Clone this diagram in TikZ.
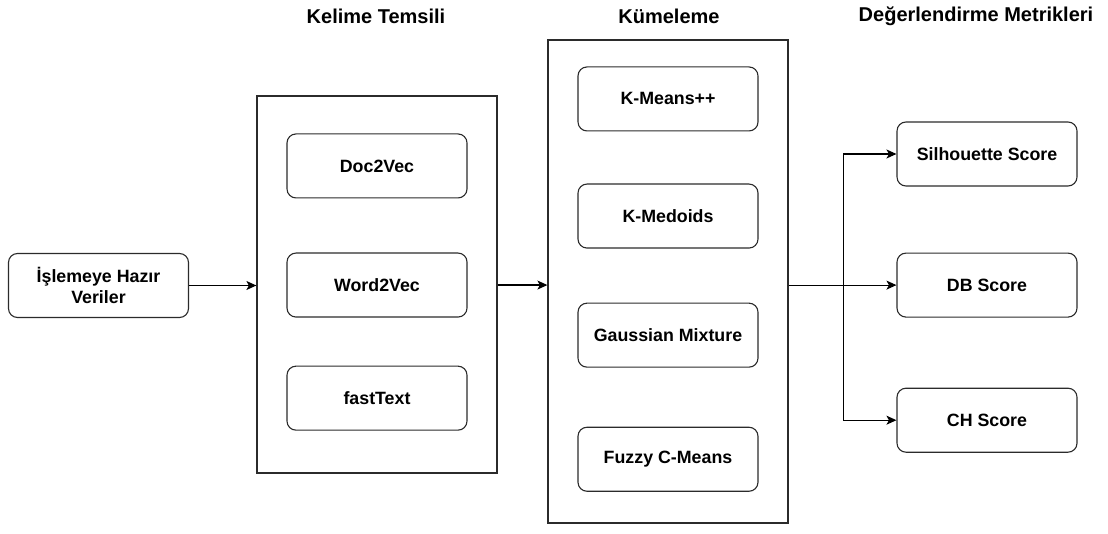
\documentclass[tikz,border=0pt]{standalone}
\usepackage{fontspec}
\setmainfont{Liberation Sans}
\usetikzlibrary{arrows.meta, positioning}
\definecolor{boxline}{HTML}{2B2B2B}

\begin{document}
\begin{tikzpicture}[
    x=1pt, y=-1pt,
    box/.style={draw=boxline,line width=1.1pt,rounded corners=9pt,minimum width=180pt,minimum height=64pt,align=center,font=\fontsize{17.8}{21}\selectfont\bfseries},
    grp/.style={draw=boxline,line width=1.2pt,minimum width=240pt},
    ttl/.style={font=\fontsize{20}{24}\selectfont\bfseries},
    conn/.style={line width=1.1pt,draw=black,-{Stealth[length=10pt,width=9pt,inset=2.5pt]}}
  ]
    \useasboundingbox (0,0) rectangle (1108,534);

    % titles
    \node[ttl] (t1) at (376,16) {Kelime Temsili};
    \node[ttl] (t2) at (669,16) {Kümeleme};
    \node[ttl] (t3) at (976,16) {Değerlendirme Metrikleri};

    % input
    \node[box] (inp) at (98.5,285.5) {İşlemeye Hazır\\Veriler};

    % word representation
    \node[grp, minimum height=377pt] (kt) at (377,284.5) {};
    \node[box, below=38pt of kt.north] (d2v) {Doc2Vec};
    \node[box, below=54pt of d2v] (w2v) {Word2Vec};
    \node[box, below=48pt of w2v] (ft) {fastText};

    % clustering
    \node[grp, minimum height=483pt] (km) at (668,281.5) {};
    \node[box, below=27pt of km.north] (kmp) {K-Means++};
    \node[box, below=52pt of kmp] (kmd) {K-Medoids};
    \node[box, below=54pt of kmd] (gm) {Gaussian Mixture};
    \node[box, below=59pt of gm] (fcm) {Fuzzy C-Means};

    % metrics
    \node[box] (sil) at (987,154) {Silhouette Score};
    \node[box, below=66pt of sil] (db) {DB Score};
    \node[box, below=70pt of db] (ch) {CH Score};

    % connectors
    \draw[conn] (inp) -- (inp -| kt.west);
    \draw[conn] (kt.east |- w2v) -- (km.west |- w2v);
    \path (km.east |- db) ++(55,0) coordinate (fork);
    \draw[conn] (km.east |- db) -- (db);
    \draw[conn] (fork) |- (sil);
    \draw[conn] (fork) |- (ch);
  \end{tikzpicture}
\end{document}
